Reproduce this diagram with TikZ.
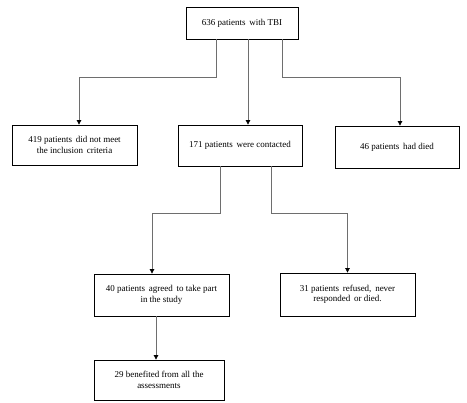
\documentclass[tikz,border=0pt]{standalone}
\usepackage{fontspec}
\setmainfont{Liberation Serif}
\usepackage{tikz}
\usetikzlibrary{arrows.meta,positioning}
\definecolor{wire}{RGB}{110,110,110}

\begin{document}
\begin{tikzpicture}[x=1pt,y=-1pt,font=\fontsize{9}{10.5}\selectfont,box/.style={rectangle,draw=black,line width=0.8pt,align=center,inner sep=2pt},arrow/.style={-{Triangle[length=4.5pt,width=4.5pt,black]},line width=0.7pt,draw=wire}]
\useasboundingbox (0,0) rectangle (467,403);
\node[box,minimum width=112pt,minimum height=32pt] (top) at (242,23) {636 patients\, with TBI};
\node[box,minimum width=125pt,minimum height=40pt] (excl) at (74.5,145) {419 patients\, did not meet\\the inclusion\, criteria};
\node[box,minimum width=124pt,minimum height=41pt] (cont) at (240,145.5) {171 patients\, were contacted};
\node[box,minimum width=124pt,minimum height=42pt] (died) at (397,147) {46 patients\, had died};
\node[box,minimum width=135pt,minimum height=42pt] (agree) at (161.5,295) {40 patients\, agreed\, to take part\\in the study};
\node[box,minimum width=135pt,minimum height=43pt] (refuse) at (347.5,294.5) {31 patients\, refused,\, never\\responded\, or died.};
\node[box,minimum width=130pt,minimum height=40pt] (bene) at (159,380) {29 benefited from all the\\assessments};
\draw[arrow] ([xshift=-26pt]top.south) -- ++(0,38) -| ([xshift=4.5pt]excl.north);
\draw[arrow] ([xshift=6pt]top.south) -- ([xshift=6pt]top.south |- cont.north);
\draw[arrow] ([xshift=40pt]top.south) -- ++(0,38) -| ([xshift=3pt]died.north);
\draw[arrow] ([xshift=-20pt]cont.south) -- ++(0,47) -| ([xshift=-9.5pt]agree.north);
\draw[arrow] ([xshift=31pt]cont.south) -- ++(0,47) -| (refuse.north);
\draw[arrow] ([xshift=-5.5pt]agree.south) -- ([xshift=-5.5pt]agree.south |- bene.north);
\end{tikzpicture}
\end{document}
